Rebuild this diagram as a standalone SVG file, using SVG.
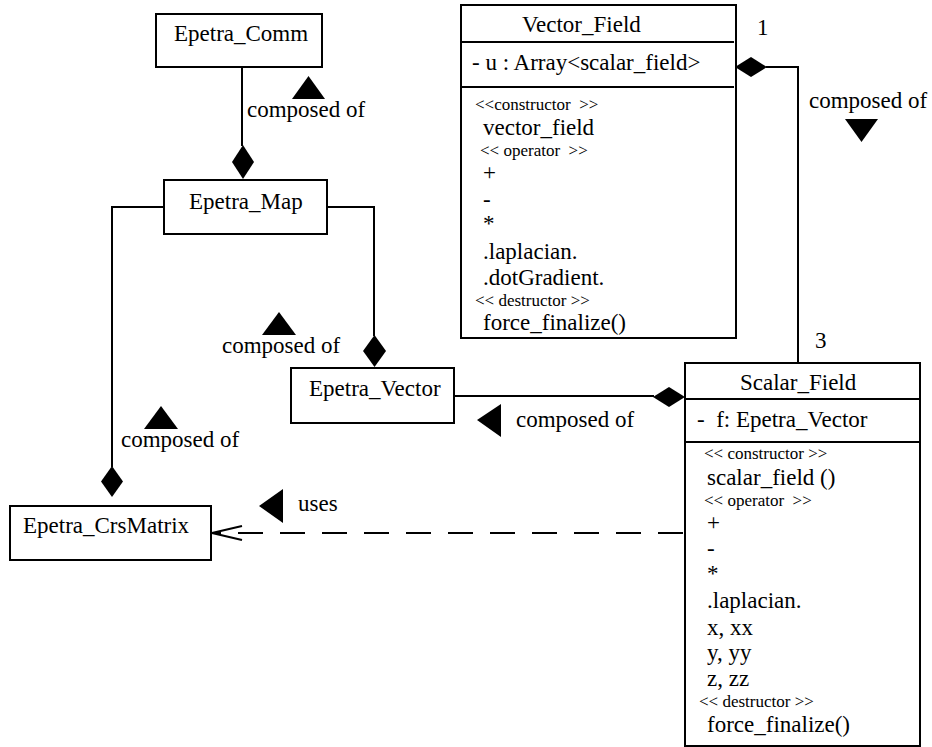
<svg xmlns="http://www.w3.org/2000/svg" width="932" height="747" viewBox="0 0 932 747" font-family="Liberation Serif, serif">
<style>
text { font-family: "Liberation Serif", serif; font-size: 23px; fill: #000; white-space: pre; }
.s { font-size: 17px; }
.box { fill: #fff; stroke: #000; stroke-width: 2; }
.ln { fill: none; stroke: #000; stroke-width: 2; }
.f { fill: #000; stroke: none; }
</style>
<rect width="932" height="747" fill="#fff"/>
<g id="connectors">
  <polyline class="ln" points="242,67 242,146"/>
  <polygon class="f" points="243,145 254,162 243,179 232,162"/>
  <polyline class="ln" points="164,207 112,207 112,467"/>
  <polygon class="f" points="112,466 123,481.5 112,497 101,481.5"/>
  <polyline class="ln" points="327,207 374,207 374,336"/>
  <polygon class="f" points="374.5,335 386,351 374.5,367 363,351"/>
  <polyline class="ln" points="766,67 798,67 798,363"/>
  <polygon class="f" points="735,67 751,57 767,67 751,77"/>
  <polyline class="ln" points="454,396 654,396"/>
  <polygon class="f" points="653,397 669,387 685,397 669,407"/>
  <line class="ln" x1="683" y1="533" x2="214" y2="533" stroke-dasharray="25,17"/>
  <polyline class="ln" points="242,526 212,533 242,540"/>
  <polygon class="f" points="292,99 325,99 308.5,76"/>
  <text x="247" y="117">composed of</text>
  <polygon class="f" points="262,335 296,335 279,312"/>
  <text x="222" y="353">composed of</text>
  <polygon class="f" points="144,429 178,429 161,406"/>
  <text x="121" y="447">composed of</text>
  <polygon class="f" points="845,119 878,119 861.5,142"/>
  <text x="809" y="108">composed of</text>
  <text x="757" y="35">1</text>
  <text x="815" y="348">3</text>
  <polygon class="f" points="477,420 501,404 501,437"/>
  <text x="516" y="427">composed of</text>
  <polygon class="f" points="259,506 283,489 283,523"/>
  <text x="298" y="511">uses</text>
</g>
<g id="Epetra_Comm">
  <rect class="box" x="156" y="14" width="166" height="53"/>
  <text x="174" y="41">Epetra_Comm</text>
</g>
<g id="Epetra_Map">
  <rect class="box" x="164" y="180" width="163" height="54"/>
  <text x="189" y="209">Epetra_Map</text>
</g>
<g id="Epetra_Vector">
  <rect class="box" x="291" y="368" width="163" height="55"/>
  <text x="309" y="396">Epetra_Vector</text>
</g>
<g id="Epetra_CrsMatrix">
  <rect class="box" x="10" y="506" width="201" height="54"/>
  <text x="23" y="533">Epetra_CrsMatrix</text>
</g>
<g id="Vector_Field">
  <rect class="box" x="461" y="5" width="275" height="333"/>
  <line class="ln" x1="461" y1="42" x2="734" y2="42"/>
  <line class="ln" x1="461" y1="87" x2="734" y2="87"/>
  <text x="522" y="32">Vector_Field</text>
  <text x="472" y="70">- u : Array&lt;scalar_field&gt;</text>
  <text class="s" x="475" y="110">&lt;&lt;constructor  &gt;&gt;</text>
  <text x="483" y="135">vector_field</text>
  <text class="s" x="480" y="156">&lt;&lt; operator  &gt;&gt;</text>
  <text x="483" y="180">+</text>
  <text x="483" y="207">-</text>
  <text x="483" y="231">*</text>
  <text x="483" y="259">.laplacian.</text>
  <text x="483" y="285">.dotGradient.</text>
  <text class="s" x="475" y="306">&lt;&lt; destructor &gt;&gt;</text>
  <text x="483" y="330">force_finalize()</text>
</g>
<g id="Scalar_Field">
  <rect class="box" x="685" y="363" width="235" height="383"/>
  <line class="ln" x1="685" y1="399" x2="920" y2="399"/>
  <line class="ln" x1="685" y1="442" x2="920" y2="442"/>
  <text x="740" y="390">Scalar_Field</text>
  <text x="697" y="427">-  f: Epetra_Vector</text>
  <text class="s" x="704" y="459">&lt;&lt; constructor &gt;&gt;</text>
  <text x="707" y="485">scalar_field ()</text>
  <text class="s" x="704" y="506">&lt;&lt; operator  &gt;&gt;</text>
  <text x="707" y="530">+</text>
  <text x="707" y="556">-</text>
  <text x="707" y="581">*</text>
  <text x="707" y="608">.laplacian.</text>
  <text x="707" y="635">x, xx</text>
  <text x="707" y="660">y, yy</text>
  <text x="707" y="686">z, zz</text>
  <text class="s" x="699" y="707">&lt;&lt; destructor &gt;&gt;</text>
  <text x="707" y="732">force_finalize()</text>
</g>
</svg>
